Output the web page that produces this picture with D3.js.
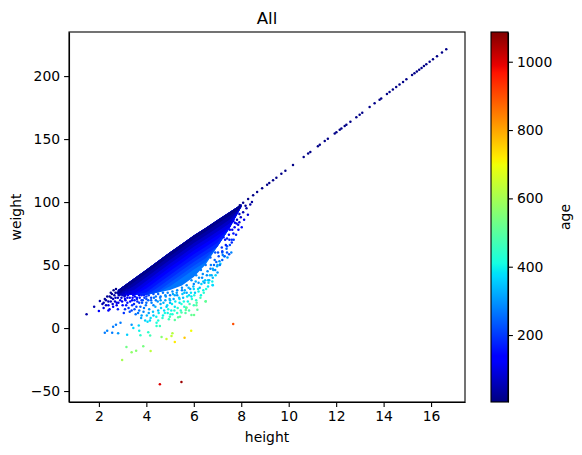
<!DOCTYPE html>
<html><head><meta charset="utf-8">
<script src="https://cdn.jsdelivr.net/npm/d3@7/dist/d3.min.js"></script>
<style>
html,body{margin:0;padding:0;background:#fff}
text{font-family:"DejaVu Sans",sans-serif;fill:#000}
.axis text{font-size:13.9px}
.axis path,.axis line{stroke:#000;stroke-width:1.1px}
</style></head><body>
<svg id="c" width="582" height="455"></svg>
<script>
const chartTitle="All", xName="height", yName="weight", cName="age";
const xTicks=[2,4,6,8,10,12,14,16];
const yTicks=[-50,0,50,100,150,200];
const cTicks=[200,400,600,800,1000];
const xDomain=[0.74,17.43], yDomain=[-58.7,235], cDomain=[4,1087];

// Long thin tail of young, tall individuals
const lineHeight=[16.64,16.46,16.25,16.08,15.94,15.8,15.7,15.6,15.5,15.4,15.3,15.2,14.96,14.82,14.67,14.53,14.39,14.25,14.14,13.9,13.83,13.62,13.41,13.1,12.99,12.85,12.6,12.43,12.36,12.22,12.15,12.01,11.94,11.65,11.52,11.31,11.23,10.91,10.82,10.63,10.18,9.86,9.69,9.48,9.34,9.18,9.09,8.88,8.67,8.5,8.29,8.08,7.94];
const lineWeight=[221.4,218.8,215.8,213.4,211.4,209.4,208,206.5,205.1,203.7,202.3,200.8,197.4,195.4,193.3,191.3,189.3,187.3,185.8,182.3,181.3,178.4,175.4,171,169.4,167.4,163.8,161.4,160.4,158.4,157.4,155.4,154.4,150.3,148.4,145.5,144.3,139.8,138.5,135.8,129.4,124.8,122.4,119.4,117.4,115.1,113.8,110.9,107.9,105.4,102.4,99.5,97.5];

// Dense body of the wedge, read as nested age contours
const bodyHeight=[2.8,3.5,4,4.5,5,5.5,6,6.5,7,7.5,8];
const bodyTop=[30,39.5,46.3,53.3,60.2,66.8,73.5,79.5,85.7,92,98];
const bandAges=[265,235,210,185,160,130,100,70,40,14];
const band265=[26,26.5,26.3,28.3,30.2,33.8,40.5,50.5,64.7,79,96];
const band235=[26,26.5,26.3,28.3,33.2,39.8,46.5,52.5,64.7,79,96];
const band210=[26,26.5,26.3,29.3,36.2,42.8,49.5,55.5,64.7,79,96];
const band185=[26,26.5,26.3,32.3,39.2,45.8,52.5,58.5,64.7,79,96];
const band160=[26,26.5,28.3,35.3,42.2,48.8,55.5,61.5,67.7,79,96];
const band130=[26,26.5,31.3,38.3,45.2,51.8,58.5,64.5,70.7,79,96];
const band100=[26,27.5,34.3,41.3,48.2,54.8,61.5,67.5,73.7,80,96];
const band70=[26,30.5,37.3,44.3,51.2,57.8,64.5,70.5,76.7,83,96];
const band40=[26,33.5,40.3,47.3,54.2,60.8,67.5,73.5,79.7,86,96];
const band14=[27,36.5,43.3,50.3,57.2,63.8,70.5,76.5,82.7,89,96];
const bandLower=[band265,band235,band210,band185,band160,band130,band100,band70,band40,band14];

// Individually readable scattered points
const ptHeight=[4.57,5.48,7.66,2.98,3.38,3.57,3.16,3.87,4.18,5.2,5.61,5.89,4.85,5.06,5.1,4.64,4.16,4.08,3.75,3.7,3.19,2.81,2.56,2.25,2.35,3.45,3.68,2.6,2.72,2.91,3.38,4.43,4.57,4.43,5.2,4.99,5.34,5.9,6.01,5.48,5.66,5.69,6.11,6.5,6.79,6.8,6.95,7.49,
1.48,1.8,2,2.04,2.2,2.2,2.3,2.4,2.4,2.45,2.5,2.55,2.6,2.6,2.7,2.7,2.75,2.8,2.85,2.9,2.9,3,3,3.05,3.1,3.1,3.2,3.2,3.3,3.3,3.4,3.45,3.5,3.5,3.55,3.6,3.7,3.7,3.8,3.8,3.85,3.9,3.95,4,4,4.05,4.1,4.15,4.2,4.3,4.3,4.4,4.5,4.5,4.6,4.6,4.7,4.75,4.8,4.85,4.9,4.95,5,5,5.05,5.1,5.15,5.2,5.3,5.3,5.4,5.45,5.5,5.55,5.6,5.65,5.7,5.75,5.8,5.85,5.9,6,6,6.05,6.1,6.15,6.2,6.25,6.3,6.35,6.4,6.45,6.5,6.55,6.6,6.65,6.7,6.75,6.8,6.85,6.9,7,7.05,7.1,7.2,7.2,7.3,7.35,7.4,7.52,7.67,7.25,7.4,7.8,7.87,7.73,7.67,7.92,8.18,7.6,7.5];
const ptWeight=[-44.7,-42.8,3.2,-25.4,-19.3,-18,-15,-14.5,-18.2,-11.1,-7.7,-2.1,-8.7,-6.3,-4.2,-7.1,-6,-3.4,-5.8,-2.1,-5.3,-4.2,-3.7,-3.7,-2.1,0,2.1,1.1,2.7,4.2,2.7,1.6,1.6,4.2,6.4,9,8.5,10.3,10.3,12.4,14.3,16.4,18,21.2,34.1,40,52.4,58.5,
11,17,13.5,21.4,20,16,22,18,14,25,21,27,23,17,28,24,20,15,26,22,29,18,26,12,23,15,28,20,13,24,18,26,22,15,11,24,20,14,26,10,22,16,6,25,20,5,12,6,24,18,10,22,14,6,25,19,10,14,22,17,12,7,26,20,14,11,23,17,26,12,20,14,30,24,17,12,28,21,14,31,25,35,18,28,22,14.5,36,32,26,40,30,36,21,42,33,38,47,42,34,50,46,44,57,50,61,54,57,66,60,78,75,72,71,83,82,83.5,85,90.6,97,68,70];
const ptAge=[1000,1060,900,600,570,560,530,540,630,720,760,700,650,640,620,560,470,440,440,400,360,300,270,270,280,370,370,270,270,270,300,440,460,420,500,460,500,510,520,480,500,510,500,510,370,340,240,220,
40,50,120,40,50,90,40,100,140,30,60,25,50,120,20,60,100,170,50,100,25,150,70,190,110,190,80,160,220,130,190,120,170,220,260,160,200,260,170,310,220,270,360,200,250,380,310,370,220,280,350,270,340,420,260,320,400,370,310,350,400,460,270,330,400,420,320,380,300,440,380,440,280,340,430,490,320,400,480,310,380,280,460,350,440,500,300,340,400,290,400,320,510,290,380,340,270,320,370,250,290,300,220,270,200,240,230,170,220,120,160,160,170,110,110,110,100,70,30,180,170];

// Speckle along the lower flank of the wedge
const speckHeight=[2.15,2.25,2.3,2.35,2.4,2.45,2.5,2.52,2.58,2.62,2.65,2.68,2.72,2.75,2.78,2.8,2.82,2.88,2.92,2.95,2.98,3.02,3.05,3.08,3.12,3.15,3.18,3.22,3.25,3.28,3.32,3.35,3.38,3.42,3.48,3.52,3.58,3.62,3.65,3.72,3.75,3.78,3.82,3.88,3.92,3.98,4.02,4.08,4.12,4.18,4.22,4.28,4.32,4.38,4.42,4.48,4.52,4.58,4.62,4.68,4.72,4.78,4.82,4.88,4.92,4.98,5.02,5.08,5.12,5.18,5.22,5.28,5.32,5.38,5.42,5.48,5.52,5.58,5.62,5.68,5.72,5.78,5.82,5.88,5.92,5.98,6.02,6.08,6.12,6.18,6.22,6.28,6.32,6.38,6.42,6.48,6.52,6.58,6.62,6.68,6.72,6.78,6.82,6.88,6.92,6.98,7.02,7.08,7.12,7.18,7.22,7.28,7.32,7.38,7.42,7.48,7.52,7.58,7.62,7.68,7.72,7.78,7.82,7.88,7.92,7.98,8.02,8.08,8.12,8.22,8.28,8.38,8.45,
3.1,3.3,3.5,3.7,3.9,4.1,4.3,4.5,4.7,4.9,5.1,5.3,5.5,5.7,5.9,6.1,6.3,6.5,6.7,6.9,3.2,3.6,4,4.4,4.8,5.2,5.6,6,6.4,6.8,7.2,7.6,3.4,3.8,4.2,4.6,5,5.4,5.8,6.2,6.6,7,7.4];
const speckWeight=[19,23,18,25,21,15,28,24,19,30,26,21,31,18,28,24,20,30,27,24,21,32,28,25,22,18,30,26,16,33,21,28,14,24,19,25,17,21,12,24,17,8,20,13,24,18,10,22,15,8,20,13,24,17,9,21,12,24,16,8,20,12,25,18,15,23,11,19,27,14,21,28,16,24,9,19,27,21,30,16,25,32,19,28,23,33,26,37,20,31,40,24,35,43,28,38,31,45,36,42,50,37,46,54,42,49,60,53,51,64,58,57,70,63,56,74,66,60,78,70,80,74,86,78,84,88,80,92,86,95,90,98,100,
26,28,27,26,26,26,27,27,28,28,29,30,32,34,38,42,46,50,56,60,24,23,23,25,26,26,28,31,37,47,60,70,22,22,22,22,22,23,26,29,38,50,65];
const speckAge=[50,30,60,20,50,110,20,40,80,15,40,80,15,110,40,70,100,30,50,80,110,30,60,90,120,160,60,100,190,40,150,90,210,130,180,150,210,180,260,170,240,320,220,280,200,260,340,240,300,380,280,350,260,330,400,300,390,290,370,440,330,420,300,380,410,330,440,390,320,440,390,310,440,360,500,430,350,410,330,480,390,330,470,380,430,340,420,320,490,390,300,470,360,290,440,350,430,290,390,350,270,400,320,250,370,320,220,290,360,190,260,340,150,240,300,140,220,280,110,200,110,170,60,140,90,70,150,50,110,40,90,40,30,
80,80,110,140,170,200,220,240,260,280,290,290,290,290,290,280,270,260,240,230,110,170,220,260,290,320,340,370,350,310,240,190,140,200,250,300,340,370,370,400,360,310,220];

const W=582,H=455;
const L=69,R=465,T=32,B=402,CL=491,CR=508;
const x=d3.scaleLinear().domain(xDomain).range([L,R]);
const y=d3.scaleLinear().domain(yDomain).range([B,T]);
const cy=d3.scaleLinear().domain(cDomain).range([B,T]);

// jet colormap channels
const jetR=d3.scaleLinear().domain([0,.35,.66,.89,1]).range([0,0,1,1,.5]).clamp(true);
const jetG=d3.scaleLinear().domain([0,.125,.375,.64,.91,1]).range([0,0,1,1,0,0]).clamp(true);
const jetB=d3.scaleLinear().domain([0,.11,.34,.65,1]).range([.5,1,1,0,0]).clamp(true);
const jetStops=[0,.11,.125,.34,.35,.375,.64,.65,.66,.89,.91,1];
const jet=t=>`rgb(${Math.round(255*jetR(t))},${Math.round(255*jetG(t))},${Math.round(255*jetB(t))})`;
const norm=d3.scaleLinear().domain(cDomain).range([0,1]);
const ageColor=a=>jet(norm(a));

const svg=d3.select("#c");
const defs=svg.append("defs");
defs.append("clipPath").attr("id","plot").append("rect").attr("x",L).attr("y",T).attr("width",R-L).attr("height",B-T);
const grad=defs.append("linearGradient").attr("id","jet").attr("x1",0).attr("x2",0).attr("y1",1).attr("y2",0);
grad.selectAll("stop").data(jetStops).join("stop").attr("offset",d=>d).attr("stop-color",d=>jet(d));

const plot=svg.append("g").attr("clip-path","url(#plot)");
const area=d3.area().x(d=>x(d.h)).y0(d=>y(d.lo)).y1(d=>y(d.hi));
bandAges.forEach((a,i)=>{
  const rows=bodyHeight.map((h,j)=>({h,hi:bodyTop[j],lo:bandLower[i][j]}));
  plot.append("path").attr("d",area(rows)).attr("fill",ageColor(a));
});
const pts=ptHeight.map((h,i)=>({h,w:ptWeight[i],a:ptAge[i]}));
const speck=speckHeight.map((h,i)=>({h,w:speckWeight[i],a:speckAge[i]}));
const tail=lineHeight.map((h,i)=>({h,w:lineWeight[i],a:12}));
plot.selectAll("circle.p").data(speck.concat(pts,tail)).join("circle").attr("class","p")
  .attr("cx",d=>x(d.h)).attr("cy",d=>y(d.w)).attr("r",1.25).attr("fill",d=>ageColor(d.a));

// axes
svg.append("g").attr("class","axis").attr("transform",`translate(0,${B})`)
  .call(d3.axisBottom(x).tickValues(xTicks).tickFormat(d3.format("d")).tickSize(4.9).tickPadding(4).tickSizeOuter(0));
svg.append("g").attr("class","axis").attr("transform",`translate(${L},0)`)
  .call(d3.axisLeft(y).tickValues(yTicks).tickFormat(d=>d<0?"\u2212"+Math.abs(d):d).tickSize(4.9).tickPadding(4).tickSizeOuter(0));
svg.append("rect").attr("x",L).attr("y",T).attr("width",R-L).attr("height",B-T).attr("fill","none").attr("stroke","#000").attr("stroke-width",1.1);

// colour bar
svg.append("rect").attr("x",CL).attr("y",T).attr("width",CR-CL).attr("height",B-T).attr("fill","url(#jet)");
svg.append("g").attr("class","axis").attr("transform",`translate(${CR},0)`)
  .call(d3.axisRight(cy).tickValues(cTicks).tickFormat(d3.format("d")).tickSize(4.9).tickPadding(4).tickSizeOuter(0));
svg.append("rect").attr("x",CL).attr("y",T).attr("width",CR-CL).attr("height",B-T).attr("fill","none").attr("stroke","#000").attr("stroke-width",1.1);

// labels
svg.append("text").attr("x",(L+R)/2).attr("y",24).attr("text-anchor","middle").style("font-size","16.67px").text(chartTitle);
svg.append("text").attr("x",(L+R)/2).attr("y",442).attr("text-anchor","middle").style("font-size","13.9px").text(xName);
svg.append("text").attr("transform",`translate(21,${(T+B)/2}) rotate(-90)`).attr("text-anchor","middle").style("font-size","13.9px").text(yName);
svg.append("text").attr("transform",`translate(570,${(T+B)/2}) rotate(-90)`).attr("text-anchor","middle").style("font-size","13.9px").text(cName);
</script></body></html>
